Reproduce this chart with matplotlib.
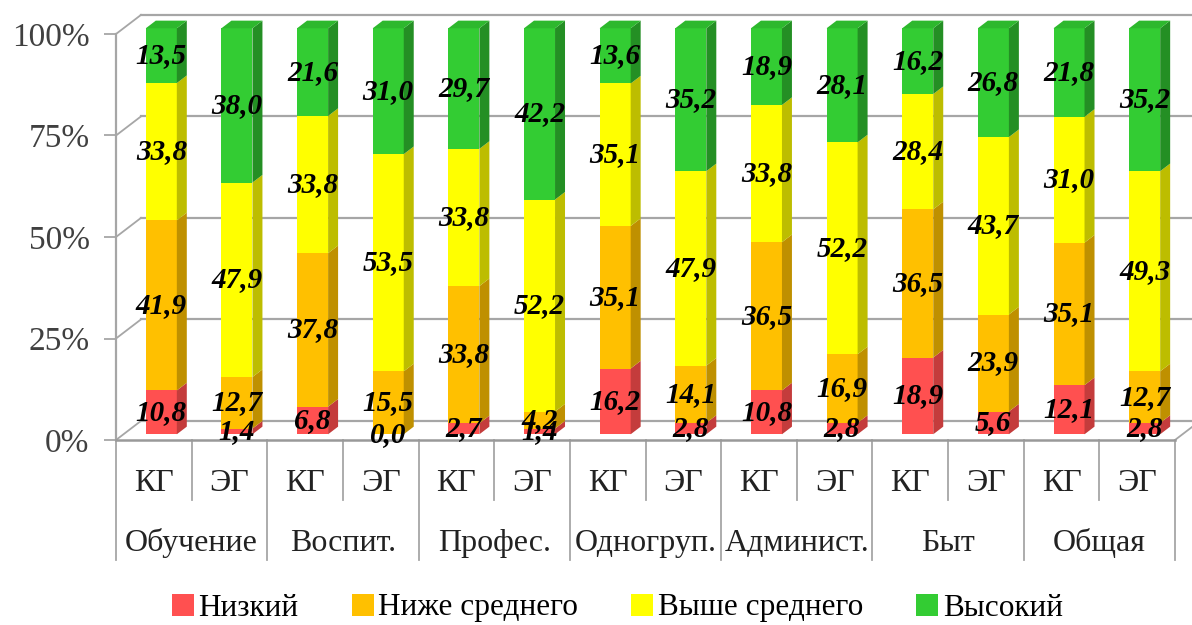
import matplotlib.pyplot as plt
from matplotlib.patches import Polygon, Patch

groups = ['Обучение', 'Воспит.', 'Профес.', 'Одногруп.', 'Админист.', 'Быт', 'Общая']
subgroups = ['КГ', 'ЭГ']
levels = ['Низкий', 'Ниже среднего', 'Выше среднего', 'Высокий']

# one value per bar (КГ, ЭГ for each group, left to right)
low = [10.8, 1.4, 6.8, 0.0, 2.7, 1.4, 16.2, 2.8, 10.8, 2.8, 18.9, 5.6, 12.1, 2.8]
below_avg = [41.9, 12.7, 37.8, 15.5, 33.8, 4.2, 35.1, 14.1, 36.5, 16.9, 36.5, 23.9, 35.1, 12.7]
above_avg = [33.8, 47.9, 33.8, 53.5, 33.8, 52.2, 35.1, 47.9, 33.8, 52.2, 28.4, 43.7, 31.0, 49.3]
high = [13.5, 38.0, 21.6, 31.0, 29.7, 42.2, 13.6, 35.2, 18.9, 28.1, 16.2, 26.8, 21.8, 35.2]

series = [low, below_avg, above_avg, high]
front_colors = ['#FF5050', '#FFC000', '#FFFF00', '#33CC33']
side_colors = ['#C43C3C', '#BF9000', '#BDBD00', '#248F24']
top_colors = ['#E84848', '#E6AD00', '#E6E600', '#2DB82D']

serif = 'Liberation Serif'
grid_color = '#A6A6A6'

# depth of the pseudo-3D box in data units, bar sits between f0 and f1
DX, DY = 0.33, 4.7
f0, f1 = 0.3, 0.7
bw = 0.41
n = len(low)

fig = plt.figure(figsize=(11.92, 6.25), dpi=100)
ax = fig.add_axes([116 / 1192, 185 / 625, 1059 / 1192, 406 / 625])
ax.set_xlim(0, n)
ax.set_ylim(0, 100)

# back wall gridlines, left wall diagonals, floor
for v in [0, 25, 50, 75, 100]:
    ax.plot([DX, n + DX], [v + DY, v + DY], color=grid_color, lw=1.6, clip_on=False, zorder=1)
    ax.plot([0, DX], [v, v + DY], color=grid_color, lw=1.3, clip_on=False, zorder=1)
ax.plot([n, n + DX], [0, DY], color=grid_color, lw=1.3, clip_on=False, zorder=1)

# stacked bars: front faces through ax.bar, then side faces
xs = [i + 0.5 + f0 * DX for i in range(n)]
d = f1 - f0
bottoms = [0.0] * n
for vals, fc, sc in zip(series, front_colors, side_colors):
    base = [b + f0 * DY for b in bottoms]
    ax.bar(xs, vals, width=bw, bottom=base, color=fc, zorder=3, clip_on=False)
    for i in range(n):
        x1 = xs[i] + bw / 2
        y0 = base[i]
        y1 = base[i] + vals[i]
        side = Polygon([(x1, y0), (x1 + d * DX, y0 + d * DY),
                        (x1 + d * DX, y1 + d * DY), (x1, y1)],
                       closed=True, facecolor=sc, edgecolor='none', zorder=3, clip_on=False)
        ax.add_patch(side)
    bottoms = [b + v for b, v in zip(bottoms, vals)]

# top faces of the full columns
for i in range(n):
    x0 = xs[i] - bw / 2
    x1 = xs[i] + bw / 2
    y1 = bottoms[i] + f0 * DY
    top = Polygon([(x0, y1), (x0 + d * DX, y1 + d * DY),
                   (x1 + d * DX, y1 + d * DY), (x1, y1)],
                  closed=True, facecolor=top_colors[-1], edgecolor='none', zorder=3, clip_on=False)
    ax.add_patch(top)

# value labels in the middle of each segment
bottoms = [0.0] * n
for vals in series:
    for i in range(n):
        yc = bottoms[i] + vals[i] / 2 + f0 * DY
        ax.text(xs[i], yc, f'{vals[i]:.1f}'.replace('.', ','), ha='center', va='center',
                fontsize=21, fontfamily=serif, fontweight='bold', fontstyle='italic',
                color='black', zorder=5, clip_on=False)
    bottoms = [b + v for b, v in zip(bottoms, vals)]

# y axis
for s in ['top', 'right']:
    ax.spines[s].set_visible(False)
ax.spines['left'].set_color(grid_color)
ax.spines['left'].set_linewidth(1.6)
ax.spines['bottom'].set_color('#999999')
ax.spines['bottom'].set_linewidth(1.8)
ax.set_yticks([0, 25, 50, 75, 100])
ax.set_yticklabels(['0%', '25%', '50%', '75%', '100%'], fontsize=24, fontfamily=serif, color='#404040')
ax.tick_params(axis='y', length=9, width=1.3, color=grid_color, pad=10)
ax.set_xticks([])

# two-level category axis
for k in range(n + 1):
    depth = -29.6 if k % 2 == 0 else -14.8
    ax.plot([k, k], [0, depth], color=grid_color, lw=1.3, clip_on=False, zorder=1)
for i in range(n):
    ax.text(i + 0.5, -10.6, subgroups[i % 2], ha='center', va='center',
            fontsize=23, fontfamily=serif, color='#222222', clip_on=False)
for g, name in enumerate(groups):
    ax.text(2 * g + 1, -25.4, name, ha='center', va='center',
            fontsize=23, fontfamily=serif, color='#222222', clip_on=False)

handles = [Patch(facecolor=c, edgecolor='none') for c in front_colors]
fig.legend(handles, levels, loc='center', bbox_to_anchor=(0.518, 1 - 608 / 625), ncol=4,
           frameon=False, handlelength=0.7, handleheight=0.7, handletextpad=0.15,
           columnspacing=1.7, prop={'family': serif, 'size': 22.5})

fig.savefig('out.png', dpi=100, facecolor='white')
plt.close(fig)
